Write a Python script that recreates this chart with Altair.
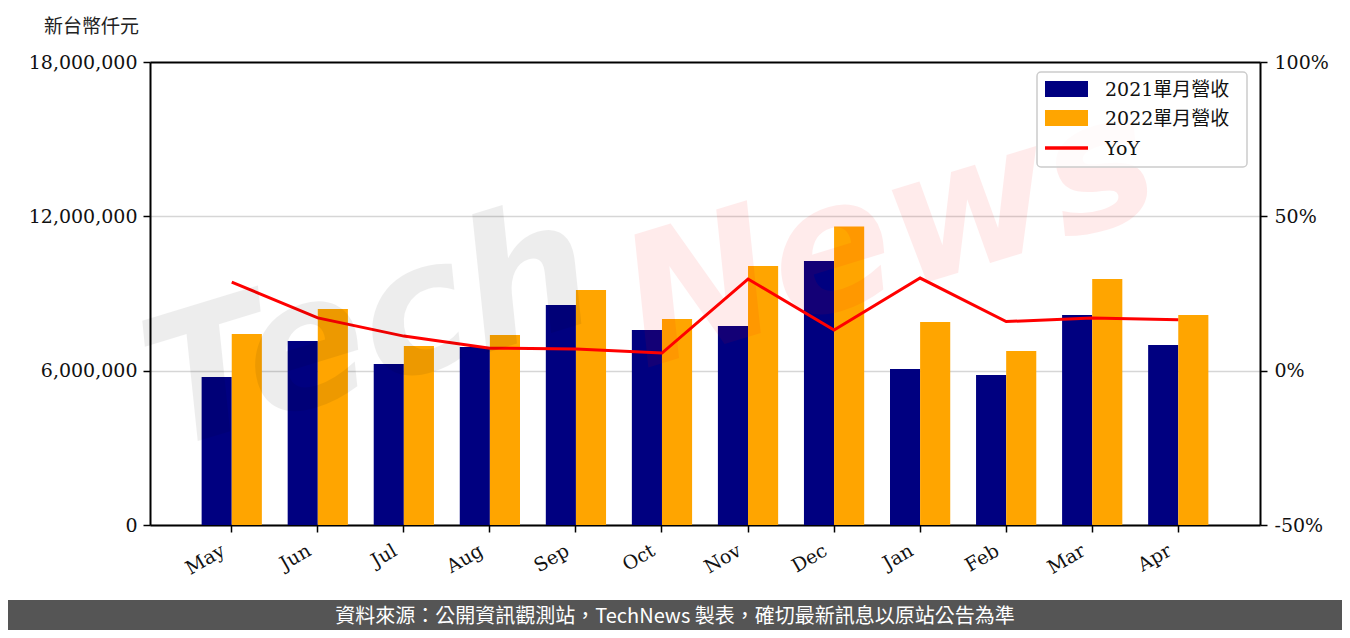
import altair as alt
import pandas as pd

months = ["May", "Jun", "Jul", "Aug", "Sep", "Oct", "Nov", "Dec", "Jan", "Feb", "Mar", "Apr"]
rev_2021 = [5754000, 7153000, 6259000, 6920000, 8553000, 7581000, 7737000, 10260000, 6065000, 5830000, 8164000, 6998000]
rev_2022 = [7425000, 8397000, 6959000, 7387000, 9136000, 8009000, 10070000, 11600000, 7892000, 6765000, 9564000, 8164000]
yoy_pct = [28.7, 17.1, 11.2, 7.3, 7.0, 5.7, 29.7, 13.2, 30.0, 15.9, 17.1, 16.5]

series_names = ["2021單月營收", "2022單月營收", "YoY"]
series_colors = ["#000080", "#FFA500", "#FF0000"]
unit_title = "新台幣仟元"
footer_text = "資料來源：公開資訊觀測站，TechNews 製表，確切最新訊息以原站公告為準"

SERIF = "DejaVu Serif, Noto Sans CJK TC"
CJK = "Noto Sans CJK TC"

bars_df = pd.DataFrame({
    "month": months * 2,
    "series": [series_names[0]] * len(months) + [series_names[1]] * len(months),
    "revenue": rev_2021 + rev_2022,
})
line_df = pd.DataFrame({"month": months, "yoy": yoy_pct, "series": [series_names[2]] * len(months)})

x_scale = alt.Scale(paddingInner=0.3, paddingOuter=0.6)
x_axis = alt.Axis(title=None, labelAngle=330, labelAlign="right", labelBaseline="top",
                  labelFont="DejaVu Serif", labelFontSize=19, labelColor="#111",
                  labelPadding=9, labelOffset=-13, tickSize=7, tickWidth=1.5, tickColor="#000",
                  domainColor="#000", domainWidth=2, grid=False)
color_scale = alt.Scale(domain=series_names, range=series_colors)

bars = alt.Chart(bars_df).mark_bar().encode(
    x=alt.X("month:N", sort=months, scale=x_scale, axis=x_axis),
    xOffset=alt.XOffset("series:N", sort=series_names[:2], scale=alt.Scale(paddingInner=0, paddingOuter=0)),
    y=alt.Y("revenue:Q", scale=alt.Scale(domain=[0, 18000000], nice=False),
            axis=alt.Axis(title=None, values=[0, 6000000, 12000000, 18000000], format=",d",
                          labelFont="DejaVu Serif", labelFontSize=19, labelColor="#111",
                          labelPadding=6, tickSize=7, tickWidth=1.5, tickColor="#000",
                          domainColor="#000", domainWidth=2, grid=True,
                          gridColor=alt.condition("datum.value >= 18000000", alt.value("#000000"), alt.value("#d6d6d6")),
                          gridWidth=alt.condition("datum.value >= 18000000", alt.value(2), alt.value(1.5)))),
    color=alt.Color("series:N", scale=color_scale, legend=None),
)

line = alt.Chart(line_df).mark_line(strokeWidth=3, strokeJoin="miter").encode(
    x=alt.X("month:N", sort=months, scale=x_scale, axis=x_axis),
    y=alt.Y("yoy:Q", scale=alt.Scale(domain=[-50, 100], nice=False),
            axis=alt.Axis(title=None, orient="right", values=[-50, 0, 50, 100],
                          labelExpr="(datum.value < 0 ? '-' : '') + format(abs(datum.value), 'd') + '%'",
                          labelFont="DejaVu Serif", labelFontSize=19, labelColor="#111",
                          labelPadding=7, tickSize=7, tickWidth=1.5, tickColor="#000",
                          domainColor="#000", domainWidth=2, grid=False)),
    color=alt.Color("series:N", scale=color_scale, legend=None),
)

wm_tech = alt.Chart(pd.DataFrame({"t": ["Tech"]})).mark_text(
    font="DejaVu Sans", fontSize=180, fontWeight="bold", fontStyle="italic",
    angle=343, align="center", baseline="middle", color="#000000", opacity=0.065,
).encode(x=alt.value(220), y=alt.value(270), text="t:N")

wm_news = alt.Chart(pd.DataFrame({"t": ["News"]})).mark_text(
    font="DejaVu Sans", fontSize=180, fontWeight="bold", fontStyle="italic",
    angle=343, align="center", baseline="middle", color="#FF0000", opacity=0.075,
).encode(x=alt.value(740), y=alt.value(175), text="t:N")

legend_box = alt.Chart(pd.DataFrame({"t": [""]})).mark_rect(
    fill="white", fillOpacity=0.8, stroke="#cccccc", strokeWidth=1.5, cornerRadius=4,
).encode(x=alt.value(887), x2=alt.value(1097), y=alt.value(10), y2=alt.value(105))

legend_layers = []
row_y = [27, 56, 86]
for i, name in enumerate(series_names):
    if i < 2:
        sym = alt.Chart(pd.DataFrame({"s": [name]})).mark_rect(color=series_colors[i]).encode(
            x=alt.value(895), x2=alt.value(938), y=alt.value(row_y[i] - 8), y2=alt.value(row_y[i] + 8))
    else:
        sym = alt.Chart(pd.DataFrame({"s": [name]})).mark_rule(color=series_colors[i], strokeWidth=3.5).encode(
            x=alt.value(895), x2=alt.value(938), y=alt.value(row_y[i]))
    lab = alt.Chart(pd.DataFrame({"s": [name]})).mark_text(
        font=SERIF, fontSize=19, align="left", baseline="middle", color="#111").encode(
        x=alt.value(955), y=alt.value(row_y[i] + 1), text="s:N")
    legend_layers += [sym, lab]

title_txt = alt.Chart(pd.DataFrame({"t": [unit_title]})).mark_text(
    font=CJK, fontSize=19, align="left", baseline="middle", color="#222").encode(
    x=alt.value(-106), y=alt.value(-35), text="t:N")

footer_bg = alt.Chart(pd.DataFrame({"t": [""]})).mark_rect(color="#555555").encode(
    x=alt.value(-150), x2=alt.value(1200), y=alt.value(538), y2=alt.value(580))

footer_txt = alt.Chart(pd.DataFrame({"t": [footer_text]})).mark_text(
    font=CJK, fontSize=20, align="center", baseline="middle", color="white").encode(
    x=alt.value(525), y=alt.value(555), text="t:N")

chart = alt.layer(
    bars, line, wm_tech, wm_news, legend_box, *legend_layers, title_txt, footer_bg, footer_txt
).resolve_scale(y="independent").properties(
    width=1110, height=463,
    autosize=alt.AutoSizeParams(type="none"),
    padding={"left": 142, "top": 54, "right": 82, "bottom": 105},
).configure_view(stroke="#000", strokeWidth=2).configure(background="white")

chart.save("out.html", embed_options={"renderer": "svg", "actions": False})
